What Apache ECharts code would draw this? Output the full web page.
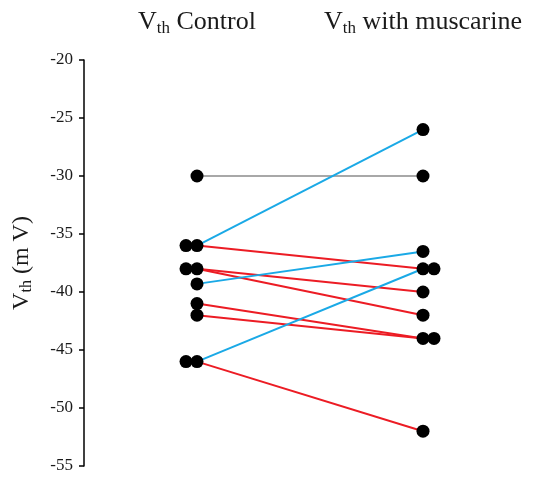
<!DOCTYPE html>
<html>
<head>
<meta charset="utf-8">
<script src="https://cdn.jsdelivr.net/npm/echarts@6/dist/echarts.min.js"></script>
<style>
  html, body { margin: 0; padding: 0; background: #fff; }
  #chart { width: 537px; height: 483px; }
</style>
</head>
<body>
<div id="chart"></div>
<script>
// Paired threshold voltages (mV), one entry per cell
const conditions = ['Control', 'with muscarine'];
const vthControl    = [-30, -36, -36, -38, -38, -39.3, -41, -42, -46, -46];
const vthMuscarine  = [-30, -26, -38, -40, -42, -36.5, -44, -44, -38, -52];
const yTicks = [-55, -50, -45, -40, -35, -30, -25, -20];

const COLOR_UP = '#1aa9e6';
const COLOR_DOWN = '#ec1c24';
const COLOR_SAME = '#a8a8a8';
const FONT = '"Liberation Serif", "DejaVu Serif", serif';

// Points sharing a value in a column are drawn side by side
function dupOffsets(values, dir) {
  const seen = {};
  return values.map(v => {
    const k = String(v);
    const n = seen[k] || 0;
    seen[k] = n + 1;
    return [dir * 11 * n, 0];
  });
}

const offC = dupOffsets(vthControl, -1);
const offM = dupOffsets(vthMuscarine, 1);

const series = [];
vthControl.forEach((a, i) => {
  const b = vthMuscarine[i];
  const color = b > a ? COLOR_UP : (b < a ? COLOR_DOWN : COLOR_SAME);
  series.push({
    type: 'line',
    data: [[0, a], [1, b]],
    symbol: 'none',
    lineStyle: { color: color, width: 2 },
    z: 2,
    silent: true
  });
});

series.push({
  type: 'scatter',
  symbolSize: 13,
  itemStyle: { color: '#000', opacity: 1 },
  z: 5,
  silent: true,
  data: vthControl.map((v, i) => ({ value: [0, v], symbolOffset: offC[i] }))
    .concat(vthMuscarine.map((v, i) => ({ value: [1, v], symbolOffset: offM[i] })))
});

const chart = echarts.init(document.getElementById('chart'), null, { renderer: 'canvas' });
chart.setOption({
  animation: false,
  backgroundColor: '#fff',
  grid: { left: 84, right: 1, top: 60, bottom: 17, containLabel: false, outerBoundsMode: 'none' },
  xAxis: {
    type: 'value',
    position: 'top',
    min: -0.5,
    max: 1.5,
    axisLine: { show: false },
    axisTick: { show: false },
    splitLine: { show: false },
    axisLabel: {
      customValues: [0, 1],
      margin: 23,
      formatter: v => '{v|V}{s|th}{t| ' + conditions[Math.round(v)] + '}',
      rich: {
        v: { fontFamily: FONT, fontSize: 26, color: '#1a1a1a' },
        t: { fontFamily: FONT, fontSize: 26, color: '#1a1a1a' },
        s: { fontFamily: FONT, fontSize: 17, color: '#1a1a1a', padding: [13, 0, 0, 0] }
      }
    }
  },
  yAxis: {
    type: 'value',
    min: yTicks[0],
    max: yTicks[yTicks.length - 1],
    interval: 5,
    axisLine: { show: true, onZero: false, lineStyle: { color: '#000', width: 1.5 } },
    axisTick: { show: true, length: 5, lineStyle: { color: '#000', width: 1.5 } },
    splitLine: { show: false },
    axisLabel: { fontFamily: FONT, fontSize: 17, color: '#1a1a1a', margin: 11 },
    name: '{v|V}{s|th}{t| (m V)}',
    nameLocation: 'middle',
    nameRotate: 90,
    nameGap: 49,
    nameTextStyle: {
      rich: {
        v: { fontFamily: FONT, fontSize: 24, color: '#1a1a1a' },
        t: { fontFamily: FONT, fontSize: 24, color: '#1a1a1a' },
        s: { fontFamily: FONT, fontSize: 16, color: '#1a1a1a', padding: [11, 0, 0, 0] }
      }
    }
  },
  series: series
});
</script>
</body>
</html>
